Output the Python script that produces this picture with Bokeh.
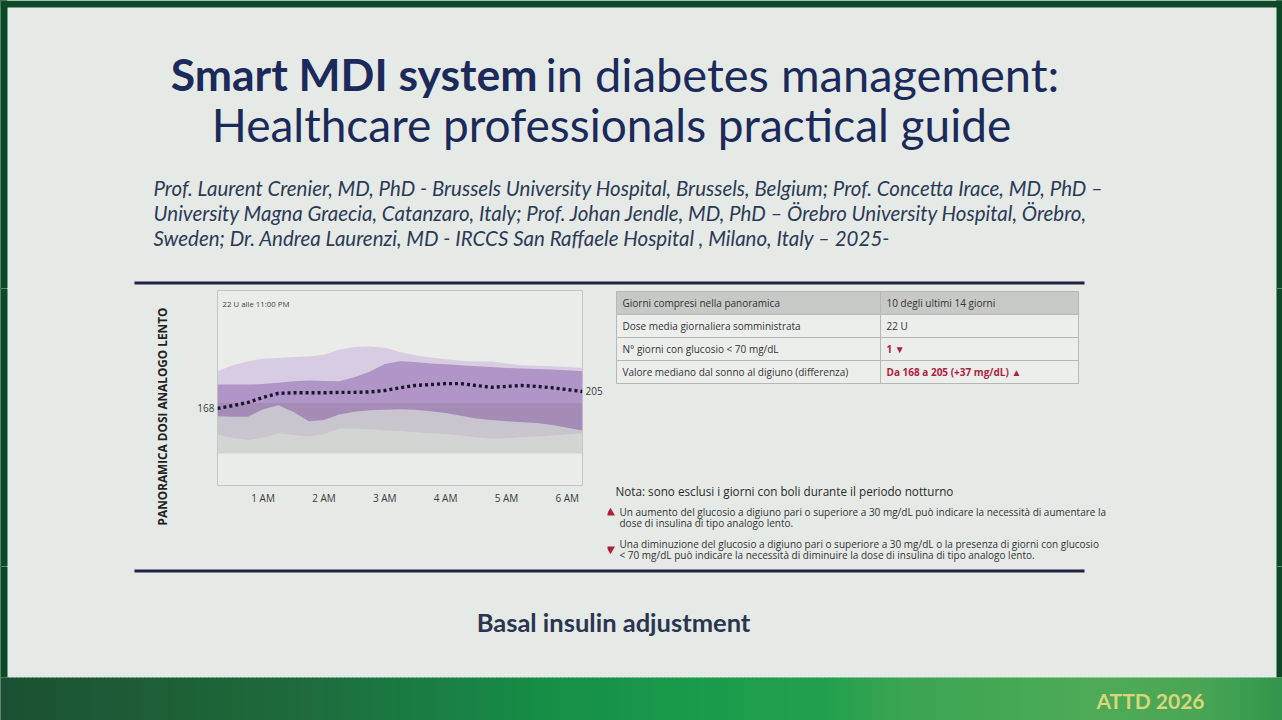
import numpy as np
from bokeh.plotting import figure
from bokeh.layouts import row, column
from bokeh.models import Range1d, FixedTicker, LinearAxis, GlobalInlineStyleSheet
from bokeh.core.properties import value
from bokeh.embed import file_html
from bokeh.resources import INLINE

# ---------------- data ----------------
hours = [0.25, 0.5, 0.75, 1.0, 1.25, 1.5, 1.75, 2.0, 2.25, 2.5, 2.75, 3.0, 3.25,
         3.5, 3.75, 4.0, 4.25, 4.5, 4.75, 5.0, 5.25, 5.5, 5.75, 6.0, 6.25]
p95 = [249, 262, 271, 276, 278, 280, 281, 285, 296, 302, 303, 300, 291,
       284, 279, 275, 272, 270, 270, 266, 262, 261, 260, 258, 256]
p75 = [220, 220, 220, 221, 224, 227, 229, 228, 227, 236, 248, 265, 271,
       269, 266, 264, 262, 260, 258, 256, 255, 254, 253, 251, 249]
p25 = [151, 150, 150, 166, 175, 160, 140, 143, 155, 161, 164, 165, 166,
       165, 162, 158, 152, 146, 143, 140, 138, 136, 132, 126, 120]
p5 = [111, 103, 99, 104, 114, 110, 107, 112, 124, 124, 122, 120, 118,
      116, 114, 112, 109, 105, 102, 103, 105, 107, 109, 111, 114]
median = [168, 174, 181, 192, 201, 202, 202, 202, 203, 203, 204, 207, 213,
          218, 220, 222, 222, 218, 214, 216, 218, 216, 213, 209, 205]
target_low = 70
target_high = 180
glucose_max = 425
tick_hours = [1, 2, 3, 4, 5, 6]
tick_labels = ["1 AM", "2 AM", "3 AM", "4 AM", "5 AM", "6 AM"]
dose_note = "22 U alle 11:00 PM"
y_title = "PANORAMICA DOSI ANALOGO LENTO"

table_labels = ["Giorni compresi nella panoramica",
                "Dose media giornaliera somministrata",
                "N° giorni con glucosio < 70 mg/dL",
                "Valore mediano dal sonno al digiuno (differenza)"]
table_values = ["10 degli ultimi 14 giorni", "22 U", "1 ▼",
                "Da 168 a 205 (+37 mg/dL) ▲"]
table_alert = [False, False, True, True]

note_text = "Nota: sono esclusi i giorni con boli durante il periodo notturno"
up_note = ["Un aumento del glucosio a digiuno pari o superiore a 30 mg/dL può indicare la necessità di aumentare la",
           "dose di insulina di tipo analogo lento."]
down_note = ["Una diminuzione del glucosio a digiuno pari o superiore a 30 mg/dL o la presenza di giorni con glucosio",
             "< 70 mg/dL può indicare la necessità di diminuire la dose di insulina di tipo analogo lento."]

title_bold = "Smart MDI system"
title_rest = "in diabetes management:"
title_line2 = "Healthcare professionals practical guide"
authors = ["Prof. Laurent Crenier, MD, PhD - Brussels University Hospital, Brussels, Belgium; Prof. Concetta Irace, MD, PhD –",
           "University Magna Graecia, Catanzaro, Italy; Prof. Johan Jendle, MD, PhD – Örebro University Hospital, Örebro,",
           "Sweden; Dr. Andrea Laurenzi, MD - IRCCS San Raffaele Hospital , Milano, Italy – 2025-"]
subtitle = "Basal insulin adjustment"
footer_tag = "ATTD 2026"

# ---------------- styles ----------------
BG = "#e6eae6"
FRAME = "#0c4a27"
NAVY = "#1b2a5a"
RULE = "#1e2140"
RED = "#b01e3c"
TXT = "#333333"
OUTER_HI = "#d7cce1"
OUTER_LO = "#c9c5ce"
INNER_HI = "#b096c7"
INNER_LO = "#a48cb6"
TARGET = "#d3d5d3"
TITLE_FONT = value("Lato")
BODY_FONT = value("Open Sans")
W, H = 1282, 720
CONTAINER_BG = ("linear-gradient(to right, %s 0px, %s 7px, %s 7px, %s 1276px, %s 1276px)"
                % (FRAME, FRAME, BG, BG, FRAME))


def deco(x0, x1, y0, y1):
    f = figure(width=x1 - x0, height=y1 - y0, x_range=Range1d(x0, x1),
               y_range=Range1d(y1, y0), output_backend="svg",
               toolbar_location=None, min_border=0, x_axis_type=None,
               y_axis_type=None, outline_line_color=None,
               background_fill_color=BG, border_fill_color=BG,
               frame_align=False)
    f.grid.visible = False
    return f


def side_strips(f, y0, y1):
    f.quad(left=[0, 1276], right=[7, W], top=[y0, y0], bottom=[y1, y1],
           fill_color=FRAME, line_color=None)


# ---------------- header ----------------
hdr = deco(0, W, 0, 288)
hdr.quad(left=[0], right=[W], top=[0], bottom=[7], fill_color=FRAME,
         line_color=None)
side_strips(hdr, 0, 288)
hdr.text(x=[537], y=[73], text=[title_bold], text_align="right",
         text_baseline="middle", text_font=TITLE_FONT, text_font_style="bold",
         text_font_size="44.5px", text_color=NAVY)
hdr.text(x=[545], y=[73], text=[title_rest], text_align="left",
         text_baseline="middle", text_font=TITLE_FONT,
         text_font_size="47px", text_color=NAVY)
hdr.text(x=[611], y=[124], text=[title_line2], text_align="center",
         text_baseline="middle", text_font=TITLE_FONT,
         text_font_size="46px", text_color=NAVY)
hdr.text(x=[153, 153, 153], y=[187, 212, 237], text=authors, text_align="left",
         text_baseline="middle", text_font=TITLE_FONT, text_font_style="italic",
         text_font_size="20.5px", text_color="#2c3a57")
hdr.segment(x0=[134], x1=[1084], y0=[282.5], y1=[282.5], line_width=3,
            line_color=RULE)

# ---------------- left label ----------------
lab = deco(0, 180, 288, 566)
side_strips(lab, 288, 566)
lab.text(x=[161], y=[416], text=[y_title], angle=np.pi / 2,
         text_align="center", text_baseline="middle", text_font=BODY_FONT,
         text_font_style="bold", text_font_size="11.8px", text_color="#222222")

# ---------------- chart ----------------
hrs = np.array(hours, dtype=float)
ch = figure(width=427, height=278, x_range=Range1d(hours[0], hours[-1]),
            y_range=Range1d(0, glucose_max), output_backend="svg",
            toolbar_location=None, min_border_left=37, min_border_right=25,
            min_border_top=2, min_border_bottom=81,
            background_fill_color="#e9ece9", border_fill_color=BG,
            outline_line_color="#c2c6c2", outline_line_width=1,
            frame_align=False)
ch.grid.visible = False

ch.quad(left=[hours[0]], right=[hours[-1]], bottom=[target_low],
        top=[target_high], fill_color=TARGET, line_color=None)
hi = np.full_like(hrs, target_high)
ch.varea(x=hrs, y1=hi, y2=np.array(p95), fill_color=OUTER_HI)
ch.varea(x=hrs, y1=np.array(p5), y2=hi, fill_color=OUTER_LO)
ch.varea(x=hrs, y1=hi, y2=np.array(p75), fill_color=INNER_HI)
ch.varea(x=hrs, y1=np.array(p25), y2=hi, fill_color=INNER_LO)
ch.line(x=hrs, y=np.array(median), line_color="#1c1530", line_width=3.4,
        line_dash="3 3")
ch.text(x=[hours[0]], y=[glucose_max], x_offset=5, y_offset=13,
        text=[dose_note], text_baseline="middle", text_font=BODY_FONT,
        text_font_size="7.8px", text_color="#444444")

ch.xaxis.ticker = FixedTicker(ticks=tick_hours)
ch.xaxis.major_label_overrides = {h: t for h, t in zip(tick_hours, tick_labels)}
ch.yaxis.ticker = FixedTicker(ticks=[median[0]])
rax = LinearAxis(ticker=FixedTicker(ticks=[median[-1]]))
ch.add_layout(rax, "right")
for ax in [ch.xaxis[0], ch.yaxis[0], rax]:
    ax.axis_line_color = None
    ax.major_tick_line_color = None
    ax.minor_tick_line_color = None
    ax.major_tick_out = 0
    ax.major_tick_in = 0
    ax.major_label_text_font = "Open Sans"
    ax.major_label_text_font_size = "10px"
    ax.major_label_text_color = "#3a3a3a"
    ax.major_label_standoff = 3
ch.xaxis.major_label_standoff = 5

# ---------------- table and notes ----------------
tb = deco(607, W, 288, 566)
side_strips(tb, 288, 566)
col_x = [616, 880, 1078]
row_h = 23
row_top = 291
n = len(table_labels)
tops = [row_top + i * row_h for i in range(n)]
fills = ["#c6c9c5"] + ["#eceeec"] * (n - 1)
tb.quad(left=[col_x[0]] * n, right=[col_x[2]] * n, top=tops,
        bottom=[t + row_h for t in tops], fill_color=fills,
        line_color="#b5b9b5", line_width=1)
tb.segment(x0=[col_x[1]], x1=[col_x[1]], y0=[row_top], y1=[row_top + n * row_h],
           line_color="#b5b9b5", line_width=1)
mids = [t + row_h / 2 for t in tops]
tb.text(x=[col_x[0] + 6] * n, y=mids, text=table_labels, text_baseline="middle",
        text_font=BODY_FONT, text_font_size="10px", text_color=TXT)
for i in range(n):
    tb.text(x=[col_x[1] + 6], y=[mids[i]], text=[table_values[i]],
            text_baseline="middle", text_font=BODY_FONT, text_font_size="10px",
            text_font_style="bold" if table_alert[i] else "normal",
            text_color=RED if table_alert[i] else TXT)

tb.text(x=[615], y=[490], text=[note_text], text_baseline="middle",
        text_font=BODY_FONT, text_font_size="11.7px", text_color="#2a2a2a")
tb.scatter(x=[610], y=[512.5], marker="triangle", size=9, fill_color=RED,
           line_color=None)
tb.scatter(x=[610], y=[548.5], marker="inverted_triangle", size=9,
           fill_color=RED, line_color=None)
tb.text(x=[619, 619], y=[511.5, 522], text=up_note, text_baseline="middle",
        text_font=BODY_FONT, text_font_size="10px", text_color=TXT)
tb.text(x=[619, 619], y=[543.5, 554], text=down_note, text_baseline="middle",
        text_font=BODY_FONT, text_font_size="10px", text_color=TXT)

# ---------------- footer ----------------
ft = deco(0, W, 566, H)
side_strips(ft, 566, 677)
ft.segment(x0=[134], x1=[1084], y0=[570.5], y1=[570.5], line_width=3,
           line_color=RULE)
ft.text(x=[613], y=[621], text=[subtitle], text_align="center",
        text_baseline="middle", text_font=TITLE_FONT, text_font_style="bold",
        text_font_size="25.5px", text_color="#2a3550")

stop_x = [0, 150, 300, 420, 560, 700, 820, 900, 1000, 1100, 1200, W]
stop_c = [(27, 81, 50), (30, 94, 56), (31, 107, 61), (26, 125, 67),
          (23, 144, 72), (26, 156, 76), (34, 160, 79), (58, 165, 82),
          (69, 168, 85), (79, 171, 87), (74, 166, 85), (50, 150, 78)]
xs = np.arange(0, W, 4)
lefts, rights, cols = [], [], []
for x in xs:
    rgb = [int(np.interp(x + 2, stop_x, [c[k] for c in stop_c])) for k in range(3)]
    lefts.append(x)
    rights.append(x + 4.5)
    cols.append("#%02x%02x%02x" % tuple(rgb))
ft.quad(left=lefts, right=rights, top=[677] * len(lefts),
        bottom=[H] * len(lefts), fill_color=cols, line_color=None)
ft.text(x=[1150], y=[700], text=[footer_tag], text_align="center",
        text_baseline="middle", text_font=TITLE_FONT, text_font_style="bold",
        text_font_size="21px", text_color="#d8d67a")

mid = row(lab, ch, tb, styles={"background": CONTAINER_BG})
layout = column(hdr, mid, ft, styles={"background": CONTAINER_BG})
layout.stylesheets = [GlobalInlineStyleSheet(
    css="html, body { margin: 0; padding: 0; overflow: hidden; background: #0c4a27; }")]

p = layout
open("out.html", "w").write(file_html(p, INLINE))
